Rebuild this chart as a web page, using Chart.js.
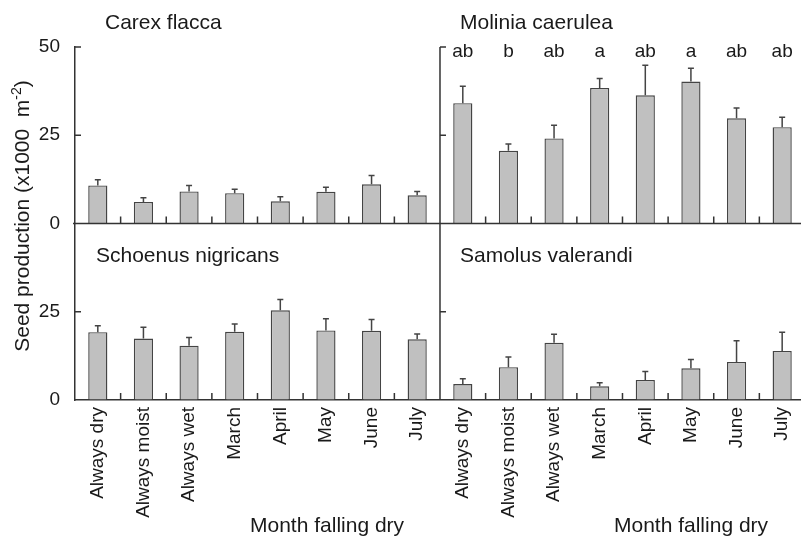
<!DOCTYPE html>
<html>
<head>
<meta charset="utf-8">
<script src="https://cdn.jsdelivr.net/npm/chart.js@4.4.1/dist/chart.umd.min.js"></script>
<style>
  html, body { margin: 0; padding: 0; background: #fff; }
  #wrap { width: 801px; height: 537px; overflow: hidden; }
  canvas { display: block; }
</style>
</head>
<body>
<div id="wrap"><canvas id="seedChart" width="812" height="537"></canvas></div>
<script>
const months = ["Always dry", "Always moist", "Always wet", "March", "April", "May", "June", "July"];
const species = ["Carex flacca", "Molinia caerulea", "Schoenus nigricans", "Samolus valerandi"];

// mean seed production (x1000 m-2) and standard error, per species
const carexMean = [10.8, 6.1, 9.1, 8.6, 6.3, 9.0, 11.1, 8.0];
const carexSE = [1.6, 1.2, 1.7, 1.1, 1.3, 1.3, 2.5, 1.1];
const moliniaMean = [34.1, 20.6, 24.1, 38.4, 36.3, 40.2, 29.8, 27.3];
const moliniaSE = [4.8, 1.9, 3.7, 2.7, 8.5, 3.8, 2.9, 2.8];
const schoenusMean = [19.2, 17.4, 15.4, 19.3, 25.4, 19.7, 19.6, 17.2];
const schoenusSE = [1.8, 3.2, 2.3, 2.2, 3.1, 3.3, 3.2, 1.5];
const samolusMean = [4.5, 9.3, 16.2, 3.9, 5.7, 9.0, 10.8, 13.9];
const samolusSE = [1.5, 2.9, 2.4, 1.0, 2.4, 2.5, 6.0, 5.3];
const moliniaLetters = ["ab", "b", "ab", "a", "ab", "a", "ab", "ab"];

const topTicks = [0, 25, 50];
const bottomTicks = [0, 25];

const FONT = "'Liberation Sans', Arial, sans-serif";
const INK = "#1a1a1a";
const AXIS = "#333";
const BAR_FILL = "#c0c0c0";
const BAR_EDGE = "#444";

Chart.defaults.font.family = FONT;
Chart.defaults.color = INK;

// extra drawing: error bars, inner ticks, middle axis, panel titles
const decor = {
    id: "decor",
    afterDatasetsDraw(chart) {
        const ctx = chart.ctx;
        const xs = chart.scales.x;
        const yTop = chart.scales.yTop;
        const yBot = chart.scales.yBot;
        const area = chart.chartArea;
        const half = (xs.getPixelForValue(1) - xs.getPixelForValue(0)) / 2;
        const xMid = xs.getPixelForValue(7) + half;
        const rowLine = yTop.getPixelForValue(0);
        const baseBot = yBot.getPixelForValue(0);

        ctx.save();
        ctx.strokeStyle = AXIS;
        ctx.lineWidth = 1.5;

        // baseline of the upper row and the middle axis
        ctx.beginPath();
        ctx.moveTo(area.left - 2, rowLine);
        ctx.lineTo(area.right, rowLine);
        ctx.moveTo(xMid, yTop.getPixelForValue(50));
        ctx.lineTo(xMid, baseBot);
        ctx.stroke();

        // inward y ticks on both panel axes
        ctx.beginPath();
        [area.left, xMid].forEach(x0 => {
            topTicks.filter(v => v > 0).forEach(v => {
                const y = yTop.getPixelForValue(v);
                ctx.moveTo(x0, y);
                ctx.lineTo(x0 + 6, y);
            });
            bottomTicks.filter(v => v > 0).forEach(v => {
                const y = yBot.getPixelForValue(v);
                ctx.moveTo(x0, y);
                ctx.lineTo(x0 + 6, y);
            });
        });
        // category separators pointing up from each baseline
        for (let i = 0; i < 15; i++) {
            if (i === 7) continue;
            const bx = xs.getPixelForValue(i) + half;
            [rowLine, baseBot].forEach(b => {
                ctx.moveTo(bx, b);
                ctx.lineTo(bx, b - 7);
            });
        }
        ctx.stroke();

        // error bars (upper only)
        ctx.strokeStyle = "#444";
        ctx.lineWidth = 1.5;
        chart.data.datasets.forEach((ds, d) => {
            const meta = chart.getDatasetMeta(d);
            const ys = chart.scales[ds.yAxisID];
            meta.data.forEach((bar, i) => {
                const yEnd = ys.getPixelForValue(ds.data[i] + ds.se[i]);
                ctx.beginPath();
                ctx.moveTo(bar.x, bar.y);
                ctx.lineTo(bar.x, yEnd);
                ctx.moveTo(bar.x - 3, yEnd);
                ctx.lineTo(bar.x + 3, yEnd);
                ctx.stroke();
            });
        });

        // significance letters above Molinia
        ctx.fillStyle = INK;
        ctx.font = "19px " + FONT;
        ctx.textAlign = "center";
        ctx.textBaseline = "alphabetic";
        const letterY = yTop.getPixelForValue(50) + 10;
        moliniaLetters.forEach((t, i) => {
            ctx.fillText(t, xs.getPixelForValue(8 + i), letterY);
        });

        // panel titles
        ctx.font = "21px " + FONT;
        ctx.textAlign = "left";
        ctx.fillText(species[0], area.left + 30, 29);
        ctx.fillText(species[1], xMid + 20, 29);
        ctx.fillText(species[2], area.left + 21, 262);
        ctx.fillText(species[3], xMid + 20, 262);

        // x axis titles
        ctx.fillText("Month falling dry", 250, 532);
        ctx.fillText("Month falling dry", xMid + 174, 532);

        // y axis title with superscript
        const main = "Seed production (x1000  m";
        const sup = "-2";
        const tail = ")";
        ctx.save();
        ctx.translate(29, 216);
        ctx.rotate(-Math.PI / 2);
        ctx.font = "21px " + FONT;
        const wMain = ctx.measureText(main).width;
        const wTail = ctx.measureText(tail).width;
        ctx.font = "14px " + FONT;
        const wSup = ctx.measureText(sup).width;
        let x = -(wMain + wSup + wTail) / 2;
        ctx.font = "21px " + FONT;
        ctx.fillText(main, x, 0);
        x += wMain;
        ctx.font = "14px " + FONT;
        ctx.fillText(sup, x, -8);
        x += wSup;
        ctx.font = "21px " + FONT;
        ctx.fillText(tail, x, 0);
        ctx.restore();

        ctx.restore();
    }
};

function yAxis(ticksList) {
    return {
        type: "linear",
        position: "left",
        stack: "rows",
        stackWeight: 1,
        min: 0,
        max: 50,
        afterBuildTicks: s => { s.ticks = ticksList.map(v => ({ value: v })); },
        afterFit: s => { s.width = 75; },
        grid: { display: true, drawOnChartArea: false, drawTicks: false, color: "transparent" },
        border: { display: true, color: AXIS, width: 1.5 },
        ticks: { padding: 15, font: { size: 19 }, color: INK }
    };
}

new Chart("seedChart", {
    type: "bar",
    data: {
        labels: months.concat(months),
        datasets: [
            {
                label: species[0] + " / " + species[1],
                data: carexMean.concat(moliniaMean),
                se: carexSE.concat(moliniaSE),
                yAxisID: "yTop",
                backgroundColor: BAR_FILL,
                borderColor: BAR_EDGE,
                borderWidth: 1.4
            },
            {
                label: species[2] + " / " + species[3],
                data: schoenusMean.concat(samolusMean),
                se: schoenusSE.concat(samolusSE),
                yAxisID: "yBot",
                backgroundColor: BAR_FILL,
                borderColor: BAR_EDGE,
                borderWidth: 1.4
            }
        ]
    },
    options: {
        responsive: false,
        animation: false,
        layout: { padding: { top: 47, right: 1, left: 0, bottom: 0 } },
        datasets: {
            bar: {
                grouped: false,
                barPercentage: 0.42,
                categoryPercentage: 1
            }
        },
        plugins: {
            legend: { display: false },
            tooltip: { enabled: false }
        },
        scales: {
            x: {
                type: "category",
                position: "bottom",
                afterFit: s => { s.height = 137; },
                grid: { display: true, offset: true, drawOnChartArea: false, drawTicks: false, color: "transparent" },
                border: { display: true, color: AXIS, width: 1.5 },
                ticks: {
                    autoSkip: false,
                    minRotation: 90,
                    maxRotation: 90,
                    padding: 7,
                    font: { size: 19 },
                    color: INK
                }
            },
            // stacked rows: the axis listed last is placed on top
            yBot: yAxis(bottomTicks),
            yTop: yAxis(topTicks)
        }
    },
    plugins: [decor]
});
</script>
</body>
</html>
